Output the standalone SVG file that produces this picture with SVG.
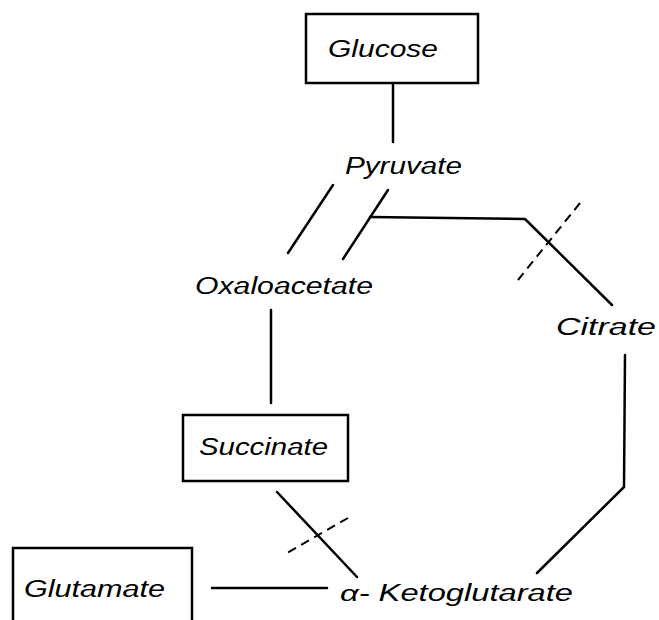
<svg xmlns="http://www.w3.org/2000/svg" width="659" height="620" viewBox="0 0 659 620">
<style>
.box{fill:none;stroke:#000;stroke-width:2.5}
.ln{fill:none;stroke:#000;stroke-width:2.5;stroke-linecap:round;stroke-linejoin:round}
.dash{fill:none;stroke:#000;stroke-width:2;stroke-dasharray:9 6}
text{font-family:"Liberation Sans","DejaVu Sans",sans-serif;font-style:italic;font-size:23px;fill:#000}
</style>
<rect width="659" height="620" fill="#fff"/>
<g id="connectors">
<path class="ln" d="M393,84 L393,142"/>
<path class="ln" d="M333,185 L288,253"/>
<path class="ln" d="M388,190 L343,259"/>
<path class="ln" d="M370,217 L525,219 L612,305"/>
<path class="dash" d="M580,203 L518,280"/>
<path class="ln" d="M271,310 L271,403"/>
<path class="ln" d="M625,355 L624,487 L537,573"/>
<path class="ln" d="M277,492 L357,577"/>
<path class="dash" d="M348,518 L287,553"/>
<path class="ln" d="M212,588 L327,588"/>
</g>
<g id="glucose">
<rect class="box" x="306" y="14" width="172" height="69"/>
<text x="328" y="57" textLength="110" lengthAdjust="spacingAndGlyphs">Glucose</text>
</g>
<g id="pyruvate">
<text x="345" y="174" textLength="117" lengthAdjust="spacingAndGlyphs">Pyruvate</text>
</g>
<g id="oxaloacetate">
<text x="195" y="294" textLength="178" lengthAdjust="spacingAndGlyphs">Oxaloacetate</text>
</g>
<g id="citrate">
<text x="556" y="335" textLength="100" lengthAdjust="spacingAndGlyphs">Citrate</text>
</g>
<g id="succinate">
<rect class="box" x="183" y="415" width="165" height="66"/>
<text x="199" y="455" textLength="129" lengthAdjust="spacingAndGlyphs">Succinate</text>
</g>
<g id="glutamate">
<rect class="box" x="13" y="548" width="179" height="90"/>
<text x="24" y="597" textLength="141" lengthAdjust="spacingAndGlyphs">Glutamate</text>
</g>
<g id="ketoglutarate">
<text x="340" y="601" textLength="233" lengthAdjust="spacingAndGlyphs">α- Ketoglutarate</text>
</g>
</svg>
